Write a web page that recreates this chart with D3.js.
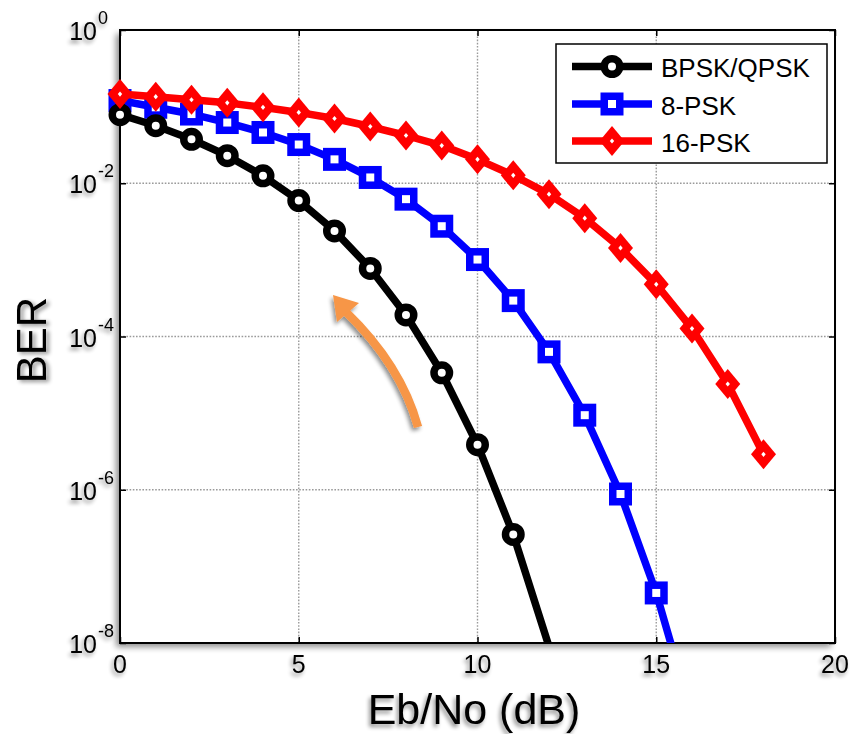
<!DOCTYPE html>
<html>
<head>
<meta charset="utf-8">
<script src="https://cdn.jsdelivr.net/npm/d3@7"></script>
<style>
  html, body { margin: 0; padding: 0; background: #fff; }
  svg { display: block; font-family: "Liberation Sans", Arial, sans-serif; }
</style>
</head>
<body>
<script>
// ---------------- data ----------------
const ebno = [0,1,2,3,4,5,6,7,8,9,10,11,12,13,14,15,16,17,18];
const berBPSK = [0.0786, 0.0563, 0.0375, 0.0229, 0.0125, 0.00595, 0.00239, 7.73e-4, 1.91e-4, 3.36e-5, 3.87e-6, 2.61e-7, 9.0e-9];
const ber8PSK = [0.12, 0.098, 0.080, 0.062, 0.046, 0.032, 0.0205, 0.0119, 0.0062, 0.00275, 0.00101, 2.94e-4, 6.3e-5, 9.4e-6, 8.8e-7, 4.5e-8, 1.1e-9];
const ber16PSK = [0.146, 0.135, 0.123, 0.112, 0.098, 0.084, 0.070, 0.055, 0.042, 0.031, 0.0205, 0.0127, 0.0072, 0.0035, 0.00143, 4.8e-4, 1.27e-4, 2.4e-5, 2.9e-6];
const seriesNames = ["BPSK/QPSK", "8-PSK", "16-PSK"];
const xTicks = [0, 5, 10, 15, 20];
const yTickExps = [0, -2, -4, -6, -8];
const xLabel = "Eb/No (dB)";
const yLabel = "BER";

// ---------------- setup ----------------
const W = 853, H = 734;
const L = 120, R = 835, T = 30, B = 643;
const x = d3.scaleLinear().domain([0, 20]).range([L, R]);
const y = d3.scaleLog().domain([1e-8, 1]).range([B, T]);

const svg = d3.select("body").append("svg").attr("width", W).attr("height", H);
const defs = svg.append("defs");

function shadow(id, dx, dy, sd, op) {
  const f = defs.append("filter").attr("id", id)
    .attr("x", "-30%").attr("y", "-30%").attr("width", "160%").attr("height", "160%");
  f.append("feGaussianBlur").attr("in", "SourceAlpha").attr("stdDeviation", sd);
  f.append("feOffset").attr("dx", dx).attr("dy", dy).attr("result", "o");
  const ct = f.append("feComponentTransfer");
  ct.append("feFuncA").attr("type", "linear").attr("slope", op);
  const m = f.append("feMerge");
  m.append("feMergeNode");
  m.append("feMergeNode").attr("in", "SourceGraphic");
}
shadow("shFrame", -4, 4, 3, 0.45);
shadow("shText", -2, 3, 2, 0.45);

defs.append("clipPath").attr("id", "plotClip")
  .append("rect").attr("x", L).attr("y", T).attr("width", R - L).attr("height", B - T);

// plot background with shadow
svg.append("rect").attr("x", L).attr("y", T).attr("width", R - L).attr("height", B - T)
  .attr("fill", "#fff").attr("filter", "url(#shFrame)");

// grid
const grid = svg.append("g").attr("stroke", "#9a9a9a").attr("stroke-width", 1.4)
  .attr("stroke-dasharray", "1.6,1.6");
xTicks.filter(v => v > 0 && v < 20).forEach(v => {
  grid.append("line").attr("x1", x(v)).attr("x2", x(v)).attr("y1", T).attr("y2", B);
});
yTickExps.filter(e => e < 0 && e > -8).forEach(e => {
  grid.append("line").attr("x1", L).attr("x2", R).attr("y1", y(Math.pow(10, e))).attr("y2", y(Math.pow(10, e)));
});

// axes ticks (inward) using d3 axes
const yTickVals = yTickExps.map(e => Math.pow(10, e));
const axB = svg.append("g").attr("transform", `translate(0,${B})`)
  .call(d3.axisBottom(x).tickValues(xTicks).tickSize(-6).tickFormat(""));
const axT = svg.append("g").attr("transform", `translate(0,${T})`)
  .call(d3.axisTop(x).tickValues(xTicks).tickSize(-6).tickFormat(""));
const axL = svg.append("g").attr("transform", `translate(${L},0)`)
  .call(d3.axisLeft(y).tickValues(yTickVals).tickSize(-6).tickFormat(""));
const axR = svg.append("g").attr("transform", `translate(${R},0)`)
  .call(d3.axisRight(y).tickValues(yTickVals).tickSize(-6).tickFormat(""));
[axB, axT, axL, axR].forEach(a => {
  a.select(".domain").remove();
  a.selectAll(".tick line").attr("stroke", "#000").attr("stroke-width", 1.5);
});

// frame
svg.append("rect").attr("x", L).attr("y", T).attr("width", R - L).attr("height", B - T)
  .attr("fill", "none").attr("stroke", "#000").attr("stroke-width", 2);

// tick labels
const tl = svg.append("g").attr("filter", "url(#shText)").attr("fill", "#000");
xTicks.forEach(v => {
  tl.append("text").attr("x", x(v)).attr("y", B + 30).attr("text-anchor", "middle")
    .attr("font-size", 25).text(v);
});
yTickExps.forEach(e => {
  const yy = y(Math.pow(10, e));
  tl.append("text").attr("x", 97).attr("y", yy + 10).attr("text-anchor", "end")
    .attr("font-size", 25).text("10");
  tl.append("text").attr("x", 98).attr("y", yy - 6).attr("text-anchor", "start")
    .attr("font-size", 18).text(e === 0 ? "0" : "-" + Math.abs(e));
});

// axis labels
svg.append("text").attr("x", 474).attr("y", 724).attr("text-anchor", "middle")
  .attr("font-size", 43).attr("filter", "url(#shText)").text(xLabel);
svg.append("text").attr("transform", "translate(46,340) rotate(-90)").attr("text-anchor", "middle")
  .attr("font-size", 42).attr("filter", "url(#shText)").text(yLabel);

// arrow (orange)
const arrow = svg.append("g").attr("filter", "url(#shText)");
const tail = [418, 427], ctrl = [401, 365], shaftEnd = [346, 312];
arrow.append("path")
  .attr("d", `M${tail[0]},${tail[1]} Q${ctrl[0]},${ctrl[1]} ${shaftEnd[0]},${shaftEnd[1]}`)
  .attr("fill", "none").attr("stroke", "#f79646").attr("stroke-width", 8.5);
arrow.append("path").attr("d", "M333,295 L359,303 L337,322 Z").attr("fill", "#f79646");

// series
const colors = ["#000000", "#0000ff", "#ff0000"];
const markerTypes = ["circle", "square", "diamond"];
const allSeries = [berBPSK, ber8PSK, ber16PSK];

function drawMarker(g, type, color, cx, cy) {
  if (type === "circle") {
    g.append("circle").attr("cx", cx).attr("cy", cy).attr("r", 7.75)
      .attr("fill", "#fff").attr("stroke", color).attr("stroke-width", 7.5);
  } else if (type === "square") {
    g.append("rect").attr("x", cx - 7.75).attr("y", cy - 7.75).attr("width", 15.5).attr("height", 15.5)
      .attr("fill", "#fff").attr("stroke", color).attr("stroke-width", 7.5);
  } else {
    g.append("path").attr("d", `M${cx},${cy - 15} L${cx + 12.5},${cy} L${cx},${cy + 15} L${cx - 12.5},${cy} Z`)
      .attr("fill", color);
    g.append("path").attr("d", `M${cx},${cy - 2.6} L${cx + 2.2},${cy} L${cx},${cy + 2.6} L${cx - 2.2},${cy} Z`)
      .attr("fill", "#fff");
  }
}

const line = d3.line().x((d, i) => x(ebno[i])).y(d => y(d));
const drawOrder = [1, 0, 2];
drawOrder.forEach(si => {
  const data = allSeries[si];
  const g = svg.append("g");
  g.append("path").datum(data).attr("d", line).attr("clip-path", "url(#plotClip)")
    .attr("fill", "none").attr("stroke", colors[si]).attr("stroke-width", 7.5)
    .attr("stroke-linejoin", "round");
  data.forEach((d, i) => {
    if (d >= 1e-8) drawMarker(g, markerTypes[si], colors[si], x(ebno[i]), y(d));
  });
});

// legend
const lg = svg.append("g");
lg.append("rect").attr("x", 556).attr("y", 44).attr("width", 271).attr("height", 119)
  .attr("fill", "#fff").attr("stroke", "#000").attr("stroke-width", 1.5);
const rowsY = [66.5, 104, 141];
seriesNames.forEach((name, i) => {
  const ry = rowsY[i];
  lg.append("line").attr("x1", 572).attr("x2", 652).attr("y1", ry).attr("y2", ry)
    .attr("stroke", colors[i]).attr("stroke-width", 7.5);
  drawMarker(lg, markerTypes[i], colors[i], 612, ry);
  lg.append("text").attr("x", 661).attr("y", ry + 10.5).attr("font-size", 26).text(name);
});
</script>
</body>
</html>
